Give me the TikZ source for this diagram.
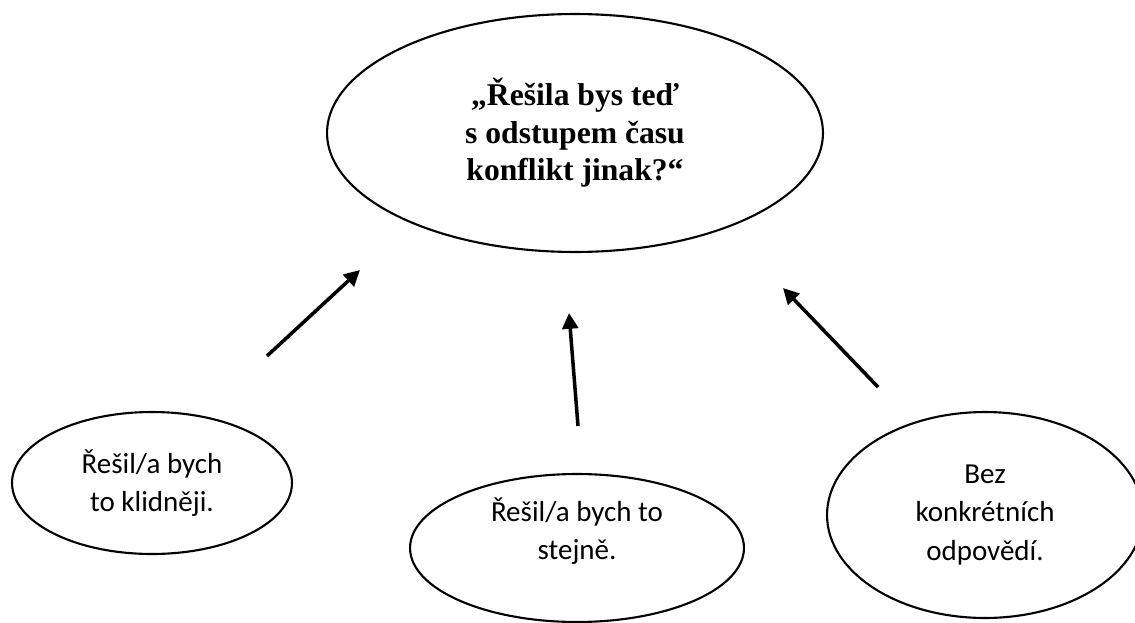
\documentclass[tikz,border=0pt]{standalone}
\usepackage{fontspec}
\setmainfont{Liberation Serif}
\newfontfamily\calibri{Carlito}
\usetikzlibrary{arrows.meta, shapes.geometric}
\tikzset{bubble/.style = {draw, ellipse, line width=1.2pt, inner sep=0pt, align=center}}
\tikzset{answer/.style = {font=\calibri\fontsize{16.5}{22}\selectfont, align=center}}
\tikzset{pointer/.style = {line width=2pt, -{Triangle[length=9pt, width=9pt]}}}

\begin{document}
\begin{tikzpicture}[x=0.02cm, y=-0.02cm]
\useasboundingbox (0,0) rectangle (1135,622);
% question in the middle
\node[bubble, minimum width=9.92cm, minimum height=4.76cm, font=\bfseries\fontsize{18}{21.3}\selectfont] (question) at (575,133) {„Řešila bys teď\\ s odstupem času\\ konflikt jinak?“};
% answers
\node[bubble, answer, minimum width=5.6cm, minimum height=2.84cm] (calmer) at (152,483) {Řešil/a bych\\ to klidněji.};
\node[bubble, minimum width=6.68cm, minimum height=2.96cm] (same) at (577,548) {};
\node[answer] (sametext) at (577,531) {Řešil/a bych to\\ stejně.};
\node[bubble, answer, minimum width=6.32cm, minimum height=4.12cm] (none) at (985,515) {Bez\\ konkrétních\\ odpovědí.};
% arrows
\coordinate (t1) at (267,356);
\coordinate (h1) at (360,270);
\coordinate (t2) at (578,426);
\coordinate (h2) at (569,313);
\coordinate (t3) at (878,387);
\coordinate (h3) at (783,288);
\draw[pointer] (t1) -- (h1);
\draw[pointer] (t2) -- (h2);
\draw[pointer] (t3) -- (h3);
\end{tikzpicture}
\end{document}
